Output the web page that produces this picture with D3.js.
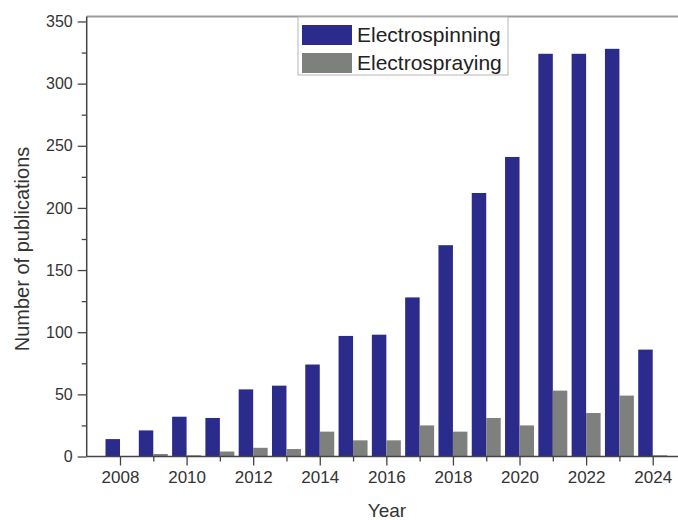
<!DOCTYPE html>
<html>
<head>
<meta charset="utf-8">
<script src="https://cdn.jsdelivr.net/npm/d3@7"></script>
<style>
  body { margin: 0; background: #fff; }
  svg { display: block; font-family: "Liberation Sans", Arial, sans-serif; }
</style>
</head>
<body>
<svg id="chart" width="678" height="520"></svg>
<script>
// data
const years = [2008, 2009, 2010, 2011, 2012, 2013, 2014, 2015, 2016, 2017, 2018, 2019, 2020, 2021, 2022, 2023, 2024];
const spinning = [14, 21, 32, 31, 54, 57, 74, 97, 98, 128, 170, 212, 241, 324, 324, 328, 86];
const spraying = [0, 2, 1, 4, 7, 6, 20, 13, 13, 25, 20, 31, 25, 53, 35, 49, 1];
const seriesNames = ["Electrospinning", "Electrospraying"];
const colors = ["#2b2b8c", "#7d807d"];
const yTicks = [0, 25, 50, 75, 100, 125, 150, 175, 200, 225, 250, 275, 300, 325, 350];

const svg = d3.select("#chart");

const x = d3.scaleLinear().domain([2007, 2025]).range([86.7, 686]);
const y = d3.scaleLinear().domain([0, 354]).range([456.5, 16.5]);
const barW = 0.435; // in years

// frame top line
svg.append("line")
  .attr("x1", x(2007)).attr("x2", 678)
  .attr("y1", y(354)).attr("y2", y(354))
  .attr("stroke", "#9a9a9a").attr("stroke-width", 2);

// bars
const g = svg.append("g");
[spinning, spraying].forEach((vals, s) => {
  g.selectAll(".bar" + s)
    .data(years)
    .join("rect")
    .attr("class", "bar" + s)
    .attr("x", d => s === 0 ? x(d - barW) : x(d))
    .attr("width", x(2007 + barW) - x(2007))
    .attr("y", (d, i) => y(vals[i]))
    .attr("height", (d, i) => y(0) - y(vals[i]))
    .attr("fill", colors[s]);
});

// x axis
const xAxis = d3.axisBottom(x)
  .tickValues(years)
  .tickFormat(d => d % 2 === 0 ? d : "")
  .tickSize(9)
  .tickPadding(5);
const gx = svg.append("g").attr("transform", `translate(0,${y(0)})`).call(xAxis);
gx.select(".domain").attr("d", `M${x(2007)},0H678`).attr("stroke", "#444").attr("stroke-width", 1.5);
gx.selectAll(".tick line").attr("stroke", "#444").attr("stroke-width", 1.3)
  .attr("y2", d => d % 2 === 0 ? 9 : 5);
gx.selectAll(".tick text").attr("font-size", 17).attr("fill", "#333")
  .attr("font-family", "Liberation Sans, Arial, sans-serif");

// y axis
const yAxis = d3.axisLeft(y)
  .tickValues(yTicks)
  .tickFormat(d => d % 50 === 0 ? d : "")
  .tickSize(9)
  .tickPadding(5);
const gy = svg.append("g").attr("transform", `translate(${x(2007)},0)`).call(yAxis);
gy.select(".domain").attr("d", `M0,${y(0)}V${y(354)}`).attr("stroke", "#444").attr("stroke-width", 1.5);
gy.selectAll(".tick line").attr("stroke", "#444").attr("stroke-width", 1.3)
  .attr("x2", d => d % 50 === 0 ? -9 : -5);
gy.selectAll(".tick text").attr("font-size", 16).attr("fill", "#333")
  .attr("font-family", "Liberation Sans, Arial, sans-serif");

// axis titles
svg.append("text")
  .attr("transform", "translate(29,249) rotate(-90)")
  .attr("text-anchor", "middle")
  .attr("font-size", 20).attr("fill", "#333")
  .text("Number of publications");
svg.append("text")
  .attr("x", 387).attr("y", 517)
  .attr("text-anchor", "middle")
  .attr("font-size", 19).attr("fill", "#333")
  .text("Year");

// legend
const leg = svg.append("g");
leg.append("rect")
  .attr("x", 298).attr("y", 17).attr("width", 210).attr("height", 58)
  .attr("fill", "#fff").attr("stroke", "#b5b5b5").attr("stroke-width", 1);
seriesNames.forEach((name, i) => {
  leg.append("rect")
    .attr("x", 302).attr("y", 25 + i * 28)
    .attr("width", 50).attr("height", 20)
    .attr("fill", colors[i]);
  leg.append("text")
    .attr("x", 357).attr("y", 35 + i * 28)
    .attr("dy", "0.35em")
    .attr("font-size", 21).attr("fill", "#222")
    .text(name);
});
</script>
</body>
</html>
